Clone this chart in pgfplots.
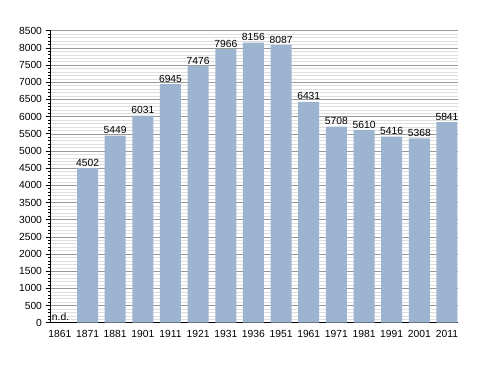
\documentclass[border=0pt]{standalone}
\usepackage{pgfplots}
\pgfplotsset{compat=1.18}
\usepackage{fontspec}
\setmainfont{Liberation Sans}
\definecolor{barc}{RGB}{157,180,208}
\begin{document}
\begin{tikzpicture}
\path[use as bounding box] (0,0) rectangle (488pt,373pt);
\begin{axis}[
  at={(50.5pt,50.3pt)}, anchor=south west,
  scale only axis, width=407pt, height=292pt,
  xmin=-0.34, xmax=14.38, ymin=0, ymax=8500,
  axis x line*=bottom, axis y line*=left,
  xtick={0,...,14},
  xticklabels={1861,1871,1881,1901,1911,1921,1931,1936,1951,1961,1971,1981,1991,2001,2011},
  ytick={0,500,...,8500},
  minor y tick num=4,
  ymajorgrids, yminorgrids,
  major grid style={color=black!40, line width=0.5pt},
  minor grid style={color=black!13, line width=0.4pt},
  major tick length=5pt, minor tick length=2.5pt,
  tick align=outside,
  x tick style={draw=none},
  xticklabel style={yshift=1pt},
  tick label style={font=\fontsize{10.3}{12}\selectfont},
  /pgf/number format/assume math mode=true,
  /pgf/number format/1000 sep={},
  axis line style={line width=0.8pt},
  y tick style={line width=0.6pt, black},
  nodes near coords,
  every node near coord/.append style={font=\fontsize{10.3}{12}\selectfont, /pgf/number format/1000 sep={}, inner sep=1.5pt},
  clip=false,
]
\addplot[ybar, bar width=21pt, fill=barc, draw=none] coordinates {
(1,4502) (2,5449) (3,6031) (4,6945) (5,7476) (6,7966) (7,8156) (8,8087) (9,6431) (10,5708) (11,5610) (12,5416) (13,5368) (14,5841)};
\node[font=\fontsize{10.3}{12}\selectfont, anchor=south west, inner sep=1pt] at (axis cs:-0.33,40) {n.d.};
\end{axis}
\end{tikzpicture}
\end{document}
